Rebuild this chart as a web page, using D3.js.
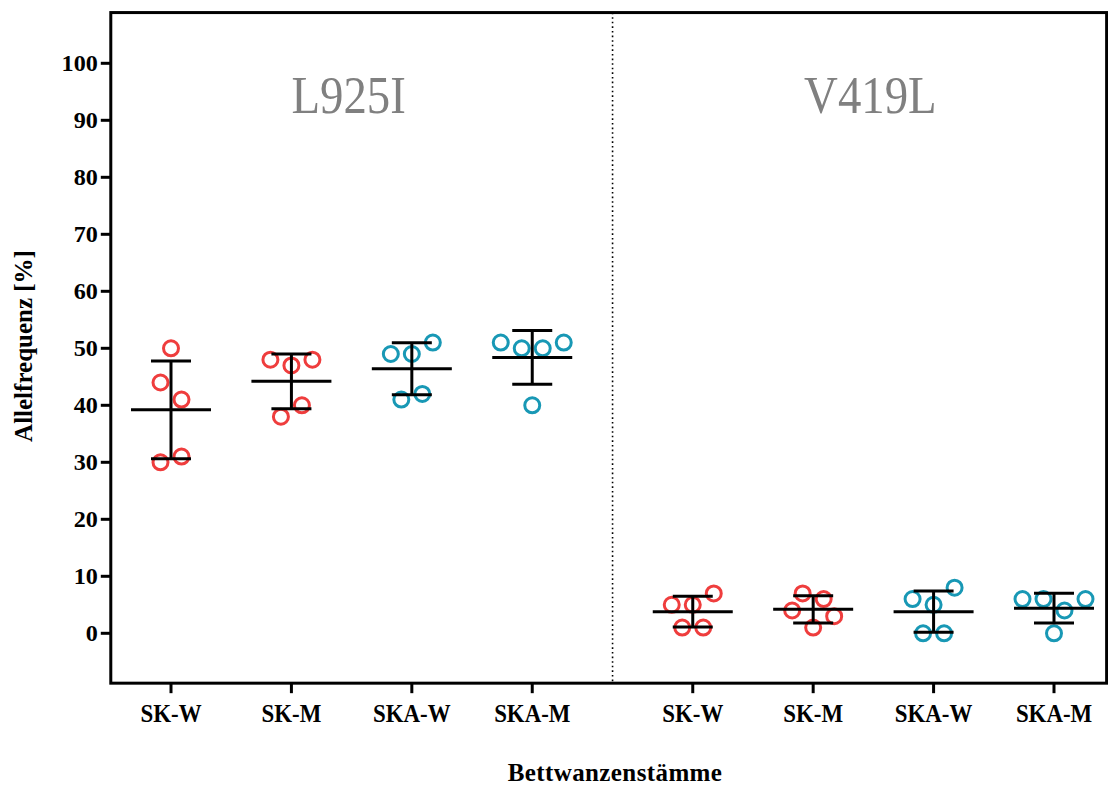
<!DOCTYPE html>
<html>
<head>
<meta charset="utf-8">
<script src="https://cdn.jsdelivr.net/npm/d3@7"></script>
<style>
  body { margin: 0; background: #fff; }
  svg text { font-family: "Liberation Serif", "Times New Roman", serif; }
</style>
</head>
<body>
<div id="chart"></div>
<script>
// mutation panels and strains, replicate values in entry order (%)
var panels = ['L925I', 'V419L'];
var strains = ['SK-W', 'SK-M', 'SKA-W', 'SKA-M'];
var strainColors = ['#ef3d3d', '#ef3d3d', '#1898b5', '#1898b5'];

var l925iValues = [
    [50, 44, 41, 30, 31],
    [48, 47, 48, 38, 40],
    [49, 49, 51, 41, 42],
    [51, 50, 50, 51, 40]
];
var v419lValues = [
    [5, 5, 7, 1, 1],
    [7, 6, 4, 1, 3],
    [6, 5, 8, 0, 0],
    [6, 6, 4, 6, 0]
];
var yTicks = [0, 10, 20, 30, 40, 50, 60, 70, 80, 90, 100];

var width = 1108, height = 787;
var svg = d3.select('#chart').append('svg')
    .attr('width', width)
    .attr('height', height);

// x positions: categories 0..3, then a gap of a third of a category
var panelStart = [0, 4.333];
var x = d3.scaleLinear().domain([0, 7.333]).range([171, 1054]);
var y = d3.scaleLinear().domain([0, 100]).range([633.3, 63.3]);

var frameLeft = x(-0.5), frameRight = x(7.77);
var frameTop = y(108.9), frameBottom = y(-8.75);

// dotted divider between the panels
svg.append('line')
    .attr('x1', x(3.667)).attr('x2', x(3.667))
    .attr('y1', frameTop).attr('y2', frameBottom)
    .attr('stroke', '#000')
    .attr('stroke-width', 1.6)
    .attr('stroke-dasharray', '1.6,3');

// panel titles
panels.forEach(function (p, i) {
    var tx = x(panelStart[i] + 1.5) - 3;
    svg.append('text')
        .attr('x', 0)
        .attr('y', 0)
        .attr('text-anchor', 'middle')
        .attr('font-size', 52)
        .attr('fill', '#808080')
        .attr('transform', 'translate(' + tx + ',113) scale(0.9,1)')
        .text(p);
});

// frame
svg.append('rect')
    .attr('x', frameLeft).attr('y', frameTop)
    .attr('width', frameRight - frameLeft).attr('height', frameBottom - frameTop)
    .attr('fill', 'none')
    .attr('stroke', '#000')
    .attr('stroke-width', 3);

// y axis ticks and labels
var yAxis = svg.append('g');
yTicks.forEach(function (t) {
    yAxis.append('line')
        .attr('x1', frameLeft - 10).attr('x2', frameLeft)
        .attr('y1', y(t)).attr('y2', y(t))
        .attr('stroke', '#000').attr('stroke-width', 3);
    yAxis.append('text')
        .attr('x', 0)
        .attr('y', 0)
        .attr('dy', '0.35em')
        .attr('text-anchor', 'end')
        .attr('font-size', 23)
        .attr('font-weight', 'bold')
        .attr('transform', 'translate(' + (frameLeft - 13) + ',' + y(t) + ') scale(1.05,1)')
        .text(t);
});

// x ticks and category labels
panels.forEach(function (p, i) {
    strains.forEach(function (s, j) {
        var cx = x(panelStart[i] + j);
        svg.append('line')
            .attr('x1', cx).attr('x2', cx)
            .attr('y1', frameBottom).attr('y2', frameBottom + 10)
            .attr('stroke', '#000').attr('stroke-width', 3);
        svg.append('text')
            .attr('x', 0).attr('y', 0)
            .attr('text-anchor', 'middle')
            .attr('font-size', 26)
            .attr('font-weight', 'bold')
            .attr('transform', 'translate(' + cx + ',722) scale(0.88,1)')
            .text(s);
    });
});

// axis titles
svg.append('text')
    .attr('transform', 'translate(32,346) rotate(-90)')
    .attr('text-anchor', 'middle')
    .attr('font-size', 25)
    .attr('font-weight', 'bold')
    .text('Allelfrequenz [%]');

svg.append('text')
    .attr('x', 615)
    .attr('y', 781)
    .attr('text-anchor', 'middle')
    .attr('font-size', 25)
    .attr('font-weight', 'bold')
    .attr('letter-spacing', 0.4)
    .text('Bettwanzenstämme');

// spread replicates horizontally: ascending values start a new row
// when they differ from the row's first value by 3.5 or more
function swarmOffsets(values, spacing) {
    var order = d3.range(values.length).sort(function (a, b) {
        return values[a] - values[b] || a - b;
    });
    var rows = [];
    order.forEach(function (idx) {
        var row = rows[rows.length - 1];
        if (row && values[idx] - values[row[0]] < 3.5) {
            row.push(idx);
        } else {
            rows.push([idx]);
        }
    });
    var offsets = [];
    rows.forEach(function (row) {
        row.sort(d3.ascending);
        row.forEach(function (idx, k) {
            offsets[idx] = (k - (row.length - 1) / 2) * spacing;
        });
    });
    return offsets;
}

var plot = svg.append('g');
[l925iValues, v419lValues].forEach(function (panelValues, i) {
    panelValues.forEach(function (vals, j) {
        var cx = x(panelStart[i] + j);
        var offsets = swarmOffsets(vals, 21);
        plot.selectAll(null)
            .data(vals)
            .enter().append('circle')
            .attr('cx', function (d, k) { return cx + offsets[k]; })
            .attr('cy', function (d) { return y(d); })
            .attr('r', 7.5)
            .attr('fill', 'none')
            .attr('stroke', strainColors[j])
            .attr('stroke-width', 3);

        // mean and standard deviation
        var m = d3.mean(vals);
        var sd = d3.deviation(vals);
        var bar = plot.append('g')
            .attr('stroke', '#000')
            .attr('stroke-width', 3);
        bar.append('line')
            .attr('x1', cx - 40).attr('x2', cx + 40)
            .attr('y1', y(m)).attr('y2', y(m));
        bar.append('line')
            .attr('x1', cx).attr('x2', cx)
            .attr('y1', y(m + sd)).attr('y2', y(m - sd));
        [m + sd, m - sd].forEach(function (v) {
            bar.append('line')
                .attr('x1', cx - 20).attr('x2', cx + 20)
                .attr('y1', y(v)).attr('y2', y(v));
        });
    });
});
</script>
</body>
</html>
